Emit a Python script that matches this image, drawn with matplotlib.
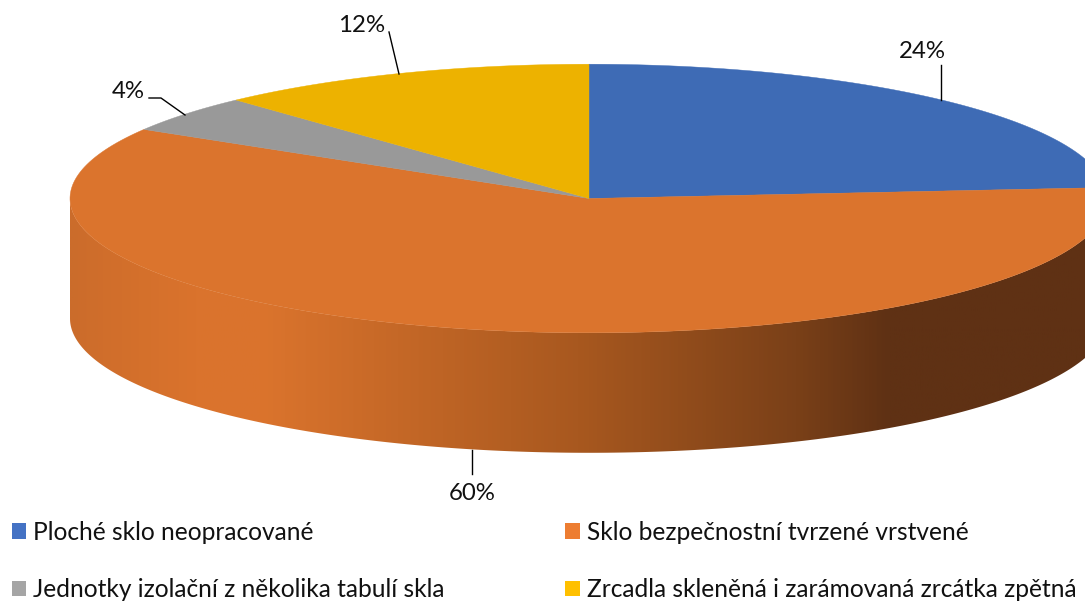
import numpy as np
import matplotlib
matplotlib.use("Agg")
import matplotlib.pyplot as plt
from matplotlib.colors import LinearSegmentedColormap
from matplotlib.patches import Patch, Polygon

plt.rcParams['font.family'] = ['Lato', 'DejaVu Sans']

# data
categories = ["Ploché sklo neopracované", "Sklo bezpečnostní tvrzené vrstvené",
              "Jednotky izolační z několika tabulí skla", "Zrcadla skleněná i zarámovaná zrcátka zpětná"]
values = [23.7, 59.9, 4.5, 11.9]  # measured on the picture, printed labels are rounded
percent_labels = ["24%", "60%", "4%", "12%"]
top_colors = ["#3E6BB5", "#DB742D", "#999999", "#EDB200"]
legend_colors = ["#4472C4", "#ED7D31", "#A5A5A5", "#FFC000"]
# label centre, then leader line points (pixels of the picture)
label_pos = [(922, 52), (472, 494), (128, 92), (362, 25)]
leaders = [[(941, 65), (941, 100)], [(472, 450), (472, 474)],
           [(149, 98), (161, 98), (185, 115)], [(389, 32), (399, 74)]]

# pie geometry
cx, cy = 589, 198.5
rx, ry = 519, 134.3
depth = 120


def rim(deg):
    # clockwise from the top of the ellipse
    a = np.radians(deg)
    return cx + rx * np.sin(a), cy - ry * np.cos(a)


fig = plt.figure(figsize=(10.85, 6.01), dpi=100)
ax = fig.add_axes([0, 0, 1, 1])
ax.set_xlim(0, 1085)
ax.set_ylim(601, 0)
ax.axis('off')

# side wall with the horizontal shading
t = np.linspace(90, 270, 300)
xs, ys = rim(t)
side = np.column_stack([np.r_[xs, xs[::-1]], np.r_[ys, ys[::-1] + depth]])
side_patch = Polygon(side, closed=True, facecolor='none', edgecolor='none')
ax.add_patch(side_patch)
shade = LinearSegmentedColormap.from_list('side', [(0, "#CB6C2B"), (0.03, "#D06E2B"), (0.12, "#DA732D"), (0.183, "#DB742D"),
                                                   (0.49, "#A8581F"), (0.70, "#7A4018"), (0.79, "#5F3114"), (1, "#5F3114")])
grad = np.linspace(0, 1, 512).reshape(1, -1)
img = ax.imshow(grad, cmap=shade, extent=(70, 1108, 480, 180), aspect='auto', zorder=1)
img.set_clip_path(side_patch)
ax.set_xlim(0, 1085)
ax.set_ylim(601, 0)

# top face, one wedge per value
start = 0
for val, col in zip(values, top_colors):
    stop = start + val / sum(values) * 360
    t = np.linspace(start, stop, 200)
    xs, ys = rim(t)
    pts = np.column_stack([np.r_[cx, xs], np.r_[cy, ys]])
    ax.add_patch(Polygon(pts, closed=True, facecolor=col, edgecolor=col, linewidth=0.3, zorder=2))
    start = stop

for lab, (lx, ly), line in zip(percent_labels, label_pos, leaders):
    ax.text(lx, ly, lab, ha='center', va='center', fontsize=17.3, color='#111111', zorder=4)
    ax.plot(*zip(*line), color='black', linewidth=1, zorder=3)

# legend fills column by column
order = [0, 2, 1, 3]
handles = [Patch(facecolor=legend_colors[i], label=categories[i]) for i in order]
ax.legend(handles=handles, loc='lower left', bbox_to_anchor=(0.0, -0.0195), ncol=2, frameon=False,
          fontsize=17.65, handlelength=0.6, handleheight=0.6, handletextpad=0.28,
          labelspacing=1.39, columnspacing=4.9, borderpad=0.48, borderaxespad=0, labelcolor='#111111')

fig.savefig("out.png", dpi=100)
